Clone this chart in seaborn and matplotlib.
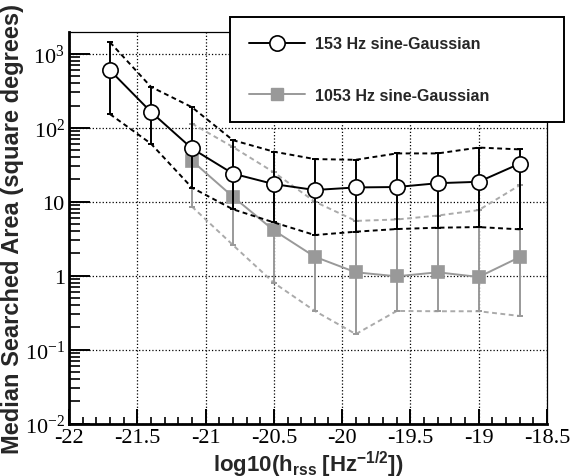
import numpy as np
import pandas as pd
import matplotlib
matplotlib.use('Agg')
import matplotlib.pyplot as plt
import seaborn as sns
from matplotlib.lines import Line2D
from matplotlib.ticker import LogLocator, FuncFormatter, MultipleLocator, NullFormatter

# 153 Hz sine-Gaussian: median area and the band edges
hrss_153 = [-21.7, -21.4, -21.1, -20.8, -20.5, -20.2, -19.9, -19.6, -19.3, -19.0, -18.7]
area_153 = [600, 164, 52.5, 24, 17.3, 14.4, 15.6, 15.8, 17.8, 18.6, 32.7]
upper_153 = [1435, 358, 190, 68, 47.5, 37.7, 36.9, 45, 45, 54, 51]
lower_153 = [153, 61, 15.5, 7.9, 5.25, 3.54, 3.93, 4.27, 4.45, 4.54, 4.23]

# 1053 Hz sine-Gaussian
hrss_1053 = [-21.1, -20.8, -20.5, -20.2, -19.9, -19.6, -19.3, -19.0, -18.7]
area_1053 = [35.8, 11.7, 4.1, 1.8, 1.11, 0.98, 1.11, 0.96, 1.78]
upper_1053 = [114, 55, 25, 10, 5.5, 5.75, 6.5, 7.7, 16.7]
lower_1053 = [8.6, 2.6, 0.80, 0.333, 0.162, 0.333, 0.33, 0.33, 0.285]

labels = ['153 Hz sine-Gaussian', '1053 Hz sine-Gaussian']

sns.set_style('ticks')
plt.rcParams['axes.unicode_minus'] = False
plt.rcParams['mathtext.fontset'] = 'custom'
plt.rcParams['mathtext.rm'] = 'Liberation Serif'
plt.rcParams['mathtext.it'] = 'Liberation Serif:italic'
plt.rcParams['mathtext.bf'] = 'Liberation Sans:bold'

fig = plt.figure(figsize=(5.72, 4.77), dpi=100)
ax = fig.add_axes([0.1206, 0.110, 0.8357, 0.820])

gris = '#999999'
gris_claro = '#aaaaaa'


def draw_series(x, y, lo, hi, color, dcolor, marker, ms, mfc, z):
    df = pd.DataFrame({'x': x, 'y': y, 'lo': lo, 'hi': hi})
    # bordas da banda (tracejado)
    for col in ['hi', 'lo']:
        sns.lineplot(data=df, x='x', y=col, ax=ax, color=dcolor, lw=1.4,
                     linestyle=(0, (2.5, 1.8)), zorder=z)
    ax.errorbar(df['x'], df['y'], yerr=[df['y'] - df['lo'], df['hi'] - df['y']],
                fmt='none', ecolor=color, elinewidth=1.4, capsize=2, capthick=1.4,
                zorder=z + 0.1)
    sns.lineplot(data=df, x='x', y='y', ax=ax, color=color, lw=1.4, marker=marker,
                 markersize=ms, markerfacecolor=mfc, markeredgecolor=color,
                 markeredgewidth=1.2, zorder=z + 0.2)


draw_series(hrss_1053, area_1053, lower_1053, upper_1053, gris, gris_claro, 's', 8.6, gris, 2)
draw_series(hrss_153, area_153, lower_153, upper_153, 'black', 'black', 'o', 11, 'white', 3)

ax.set_yscale('log')
ax.set_xlim(-22, -18.5)
ax.set_ylim(0.01, 1950)

ax.xaxis.set_major_locator(MultipleLocator(0.5))
ax.xaxis.set_minor_locator(MultipleLocator(0.1))
ax.xaxis.set_major_formatter(FuncFormatter(lambda v, p: f'{v:g}'))
ax.yaxis.set_major_locator(LogLocator(base=10, numticks=10))
ax.yaxis.set_minor_locator(LogLocator(base=10, subs=np.arange(2, 10), numticks=20))
ax.yaxis.set_minor_formatter(NullFormatter())


def yfmt(v, pos):
    e = int(round(np.log10(v)))
    if e == 0:
        return '1'
    if e == 1:
        return '10'
    return r'$10^{%d}$' % e


ax.yaxis.set_major_formatter(FuncFormatter(yfmt))

ax.tick_params(axis='both', which='both', direction='in', top=False, right=False,
               labelsize=16, colors='black')
ax.tick_params(axis='x', which='major', length=11, width=1.4, pad=3)
ax.tick_params(axis='x', which='minor', length=5, width=1.2)
ax.tick_params(axis='y', which='major', length=15, width=1.4, pad=3)
ax.tick_params(axis='y', which='minor', length=8, width=1.2)
for t in ax.get_xticklabels() + ax.get_yticklabels():
    t.set_fontfamily('Liberation Serif')

ax.grid(True, which='major', color='black', linestyle=':', linewidth=0.9)
ax.set_axisbelow(True)

for s in ['left', 'bottom']:
    ax.spines[s].set_linewidth(2)
for s in ['top', 'right']:
    ax.spines[s].set_linewidth(0.9)
for s in ax.spines.values():
    s.set_color('black')

ax.set_ylabel('Median Searched Area (square degrees)', fontsize=17,
              fontweight='bold', family='Liberation Sans')
ax.set_xlabel(r'$\mathbf{log10(h_{rss}\ [Hz^{-1/2}])}$', fontsize=16)
ax.yaxis.set_label_coords(-0.118, 0.5)
ax.yaxis.label.set_va('center')
ax.xaxis.set_label_coords(0.5, -0.103)
ax.xaxis.label.set_va('center')

handles = [
    Line2D([], [], color='black', lw=1.4, marker='o', markersize=11,
           markerfacecolor='white', markeredgewidth=1.2),
    Line2D([], [], color=gris, lw=1.4, marker='s', markersize=8.6,
           markerfacecolor=gris, markeredgecolor=gris),
]
leg = fig.legend(handles, labels, loc='upper left',
                 bbox_to_anchor=(0.402, 0.757, 0.584, 0.205), mode='expand',
                 prop={'family': 'Liberation Sans', 'weight': 'bold', 'size': 11.5},
                 frameon=True, fancybox=False, borderpad=1.2, labelspacing=2.3,
                 handlelength=3.5, handletextpad=0.6, borderaxespad=0)
leg.get_frame().set_edgecolor('black')
leg.get_frame().set_linewidth(1.4)
leg.get_frame().set_alpha(1)

fig.savefig('out.png', dpi=100)
